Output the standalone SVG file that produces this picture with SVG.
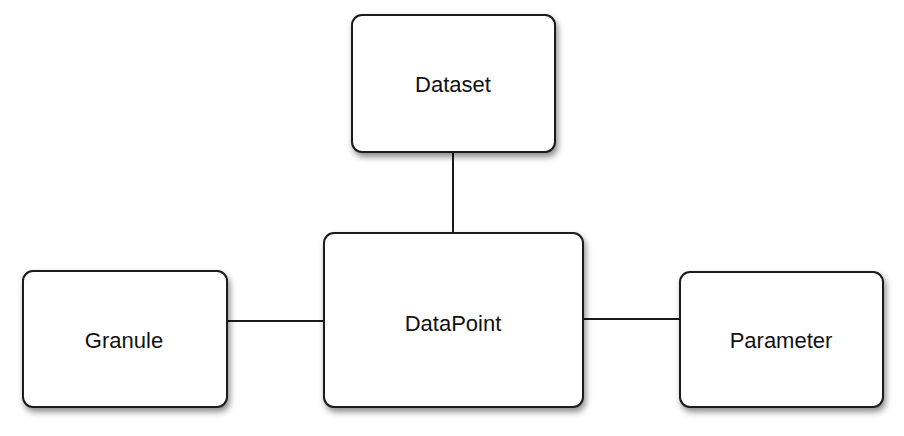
<svg xmlns="http://www.w3.org/2000/svg" width="904" height="436" viewBox="0 0 904 436">
  <style>
    .box { fill: #ffffff; stroke: #1a1a1a; stroke-width: 2; filter: url(#sh); }
    .lbl { font-family: "Liberation Sans", Arial, sans-serif; font-size: 22px; fill: #111111; text-anchor: middle; }
    .edge { stroke: #1a1a1a; stroke-width: 2; fill: none; }
  </style>
  <defs>
    <filter id="sh" x="-10%" y="-10%" width="125%" height="130%">
      <feDropShadow dx="2" dy="4" stdDeviation="3" flood-color="#000" flood-opacity="0.45"/>
    </filter>
  </defs>
  <rect width="904" height="436" fill="#ffffff"/>
  <g id="connectors">
    <line class="edge" x1="453" y1="152" x2="453" y2="233"/>
    <line class="edge" x1="227" y1="321" x2="324" y2="321"/>
    <line class="edge" x1="583" y1="319" x2="680" y2="319"/>
  </g>
  <g id="dataset">
    <rect class="box" x="352" y="15" width="203" height="137" rx="10"/>
    <text class="lbl" x="453" y="92">Dataset</text>
  </g>
  <g id="datapoint">
    <rect class="box" x="324" y="233" width="259" height="174" rx="10"/>
    <text class="lbl" x="453" y="331">DataPoint</text>
  </g>
  <g id="granule">
    <rect class="box" x="23" y="271" width="204" height="136" rx="10"/>
    <text class="lbl" x="124" y="348">Granule</text>
  </g>
  <g id="parameter">
    <rect class="box" x="680" y="272" width="203" height="135" rx="10"/>
    <text class="lbl" x="781" y="348">Parameter</text>
  </g>
</svg>
